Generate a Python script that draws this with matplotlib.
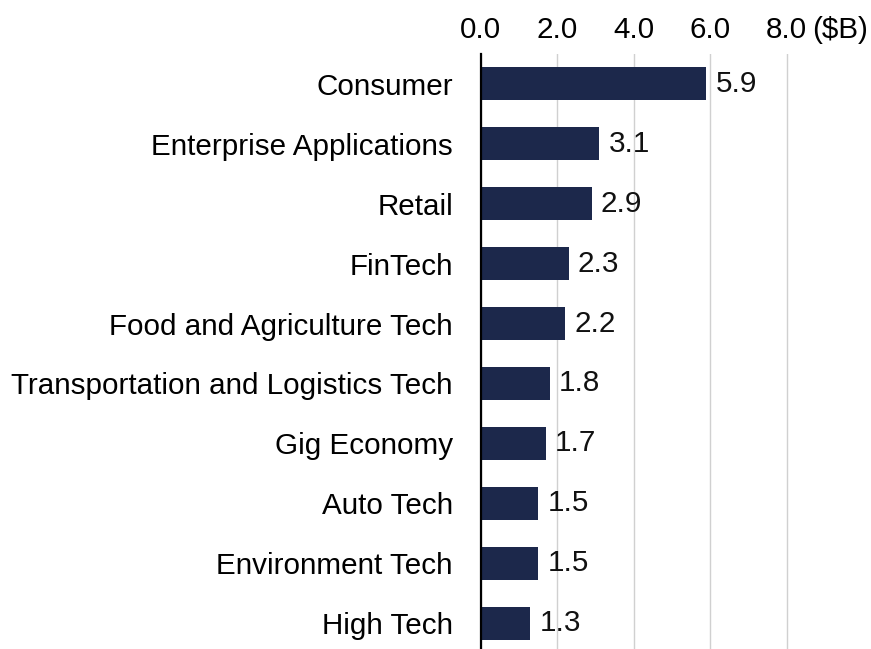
import matplotlib
matplotlib.use("Agg")
import matplotlib.pyplot as plt

categories = [
    "Consumer",
    "Enterprise Applications",
    "Retail",
    "FinTech",
    "Food and Agriculture Tech",
    "Transportation and Logistics Tech",
    "Gig Economy",
    "Auto Tech",
    "Environment Tech",
    "High Tech",
]
values = [5.9, 3.1, 2.9, 2.3, 2.2, 1.8, 1.7, 1.5, 1.5, 1.3]
ticks = [0.0, 2.0, 4.0, 6.0, 8.0]
tick_labels = ["0.0", "2.0", "4.0", "6.0", "8.0"]
unit_label = "($B)"

plt.rcParams["font.family"] = ["Liberation Sans", "DejaVu Sans"]
FS = 21.3
BAR = "#1c284b"
DPI = 100
XPAD = 7.5

fig = plt.figure(figsize=(8.71, 6.49), dpi=DPI)
ax_box = [0.5519, -0.0062, 0.3953, 0.9230]
ax = fig.add_axes(ax_box)

y = list(range(len(categories)))
ax.barh(y, values, height=0.55, color=BAR, zorder=3)
for yi, v in zip(y, values):
    ax.text(v + 0.24, yi, f"{v:.1f}", va="center", ha="left",
            fontsize=FS, color="#111111")

ax.set_ylim(len(categories) - 0.5, -0.5)
ax.set_xlim(0, 9)
ax.set_yticks(y)
ax.set_yticklabels(categories, fontsize=FS)
ax.set_xticks(ticks)
ax.set_xticklabels(tick_labels, fontsize=FS)
ax.xaxis.tick_top()
ax.tick_params(axis="both", length=0)
ax.tick_params(axis="x", pad=XPAD)
ax.tick_params(axis="y", pad=20)

ax.grid(axis="x", color="#d0d0d0", linewidth=1.0, zorder=0)
for s in ["top", "right", "bottom"]:
    ax.spines[s].set_visible(False)
ax.spines["left"].set_linewidth(1.6)
ax.spines["left"].set_color("black")
ax.spines["left"].set_zorder(4)

# unit label sits on the same line as the top tick labels
fig_h_px = 6.49 * DPI
top_px = (ax_box[1] + ax_box[3]) * fig_h_px + XPAD * DPI / 72
fig.text(0.9325, top_px / fig_h_px, unit_label, fontsize=FS,
         ha="left", va="bottom")

fig.savefig("out.png", dpi=DPI)
